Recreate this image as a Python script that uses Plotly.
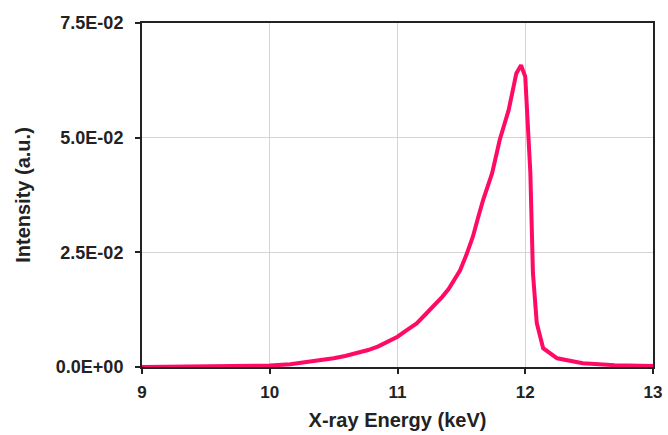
import plotly.graph_objects as go

energy_kev = [9.0, 9.5, 10.0, 10.16, 10.25, 10.34, 10.42, 10.5, 10.59, 10.68, 10.77, 10.85,
              10.92, 11.0, 11.07, 11.15, 11.22, 11.3, 11.35, 11.4, 11.44, 11.49, 11.54,
              11.59, 11.63, 11.67, 11.74, 11.8, 11.87, 11.93, 11.967, 12.0, 12.04, 12.06,
              12.09, 12.14, 12.25, 12.45, 12.7, 13.0]
intensity = [0.0, 0.0001, 0.0003, 0.0006, 0.0009, 0.0012, 0.0015, 0.0019, 0.0024, 0.0030,
             0.0037, 0.0045, 0.0055, 0.0066, 0.0080, 0.0095, 0.0115, 0.0138, 0.0153, 0.0170,
             0.0190, 0.0211, 0.0245, 0.0284, 0.0325, 0.0364, 0.0422, 0.0495, 0.056, 0.064,
             0.0658, 0.0633, 0.0423, 0.0205, 0.0096, 0.0041, 0.0019, 0.0008, 0.0004, 0.0002]

x_ticks = [9, 10, 11, 12, 13]
y_tickvals = [0.0, 0.025, 0.05, 0.075]
y_ticktext = ["0.0E+00", "2.5E-02", "5.0E-02", "7.5E-02"]

fig = go.Figure()
fig.add_trace(go.Scatter(x=energy_kev, y=intensity, mode="lines",
                         line=dict(color="#FF0A64", width=4), showlegend=False))

font_family = "Liberation Sans, Arial, sans-serif"
fig.update_layout(
    width=668, height=435,
    margin=dict(l=142, r=15, t=23, b=68),
    paper_bgcolor="white", plot_bgcolor="white",
    font=dict(family=font_family, color="#222222"),
)
fig.update_xaxes(
    range=[9, 13], tickvals=x_ticks, ticktext=[f"<b>{t}</b>" for t in x_ticks],
    tickfont=dict(size=17), showgrid=True, gridcolor="#d4d4d4", gridwidth=1,
    showline=True, linecolor="#222222", linewidth=2, mirror=True,
    ticks="outside", ticklen=5, tickwidth=2, tickcolor="#222222",
    ticklabelstandoff=4, automargin=False,
    title=dict(text="<b>X-ray Energy (keV)</b>", font=dict(size=20), standoff=12),
    zeroline=False,
)
fig.update_yaxes(
    range=[0, 0.075], tickvals=y_tickvals, ticktext=[f"<b>{t}</b>" for t in y_ticktext],
    tickfont=dict(size=18), showgrid=True, gridcolor="#d4d4d4", gridwidth=1,
    showline=True, linecolor="#222222", linewidth=2, mirror=True,
    ticks="outside", ticklen=5, tickwidth=2, tickcolor="#222222",
    ticklabelstandoff=8, automargin=False,
    title=dict(text="<b>Intensity (a.u.)</b>", font=dict(size=20), standoff=20),
    zeroline=False,
)
fig.write_html("out.html")
